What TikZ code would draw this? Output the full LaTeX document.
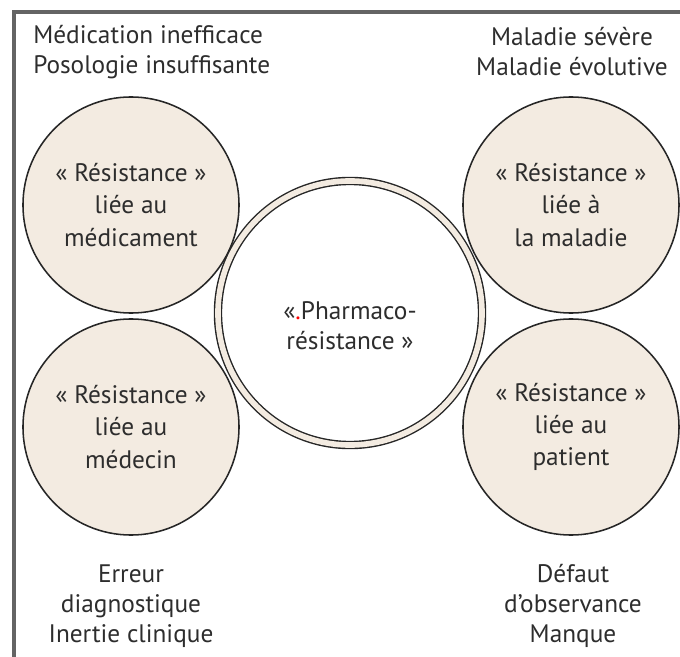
\documentclass[tikz,border=0pt]{standalone}
\usepackage{fontspec}
\setmainfont{PT Sans}

\definecolor{beige}{RGB}{243,235,225}
\definecolor{ink}{RGB}{45,45,45}
\definecolor{rim}{RGB}{100,100,100}

\tikzstyle{txt}=[text=ink, font=\fontsize{18}{21.3}\selectfont, align=center, inner sep=0pt]
\tikzstyle{cause}=[txt, circle, draw=black!85, line width=1.1pt, fill=beige, minimum size=5.4cm, font=\fontsize{18}{23}\selectfont]
\tikzstyle{core}=[circle, draw=black!85, line width=1pt, double=beige, double distance=0.14cm, fill=white, minimum size=6.6cm]
\tikzstyle{frame}=[draw=rim, line width=2.4pt]

\begin{document}
\begin{tikzpicture}[x=0.025cm, y=-0.025cm]
  \useasboundingbox (0,0) rectangle (680,657);
  \draw[frame] (680,12) -- (14,12) -- (14,657);

  % les quatre sources de resistance
  \node[cause] (med)     at (131,205) {« Résistance »\\liée au\\médicament};
  \node[cause] (maladie) at (571,205) {« Résistance »\\liée à\\la maladie};
  \node[cause] (medecin) at (131,427) {« Résistance »\\liée au\\médecin};
  \node[cause] (patient) at (571,427) {« Résistance »\\liée au\\patient};

  % le centre
  \node[core] (pharma)    at (350,313) {};
  \node[txt]  (pharmatxt) at (350,326) {«{\color{red}.}Pharmaco-\\résistance »};

  % les causes
  \node[txt, align=left, anchor=west] (drugcause) at (33,52) {Médication inefficace\\Posologie insuffisante};
  \node[txt] (illcause)    at (572,52)  {Maladie sévère\\Maladie évolutive};
  \node[txt] (doctorcause) at (131,606) {Erreur\\diagnostique\\Inertie clinique};
  \node[txt] (patcause)    at (573,606) {Défaut\\d’observance\\Manque};
\end{tikzpicture}
\end{document}
